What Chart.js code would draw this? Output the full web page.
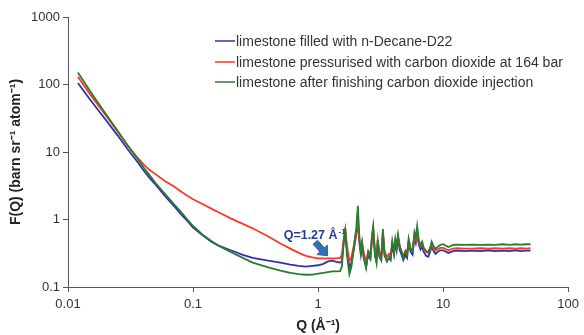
<!DOCTYPE html>
<html>
<head>
<meta charset="utf-8">
<script src="https://cdn.jsdelivr.net/npm/chart.js@4.4.1/dist/chart.umd.min.js"></script>
<style>
  html, body { margin: 0; padding: 0; background: #fff; }
  #wrap { width: 584px; height: 335px; }
</style>
</head>
<body>
<div id="wrap"><canvas id="fq"></canvas></div>
<script>
// Q values (Å^-1) shared by all three curves
const qValues = [
  0.012, 0.015, 0.02, 0.025, 0.03, 0.035, 0.04, 0.045, 0.05, 0.06, 0.07, 0.08, 0.09,
  0.1, 0.12, 0.14, 0.16, 0.2, 0.25, 0.3, 0.4, 0.5, 0.6, 0.7, 0.8, 0.9,
  1.0, 1.1, 1.2, 1.3, 1.4, 1.5, 1.55,
  1.6, 1.65, 1.7, 1.78, 1.85, 1.95, 2.02, 2.08, 2.14, 2.2, 2.25, 2.32, 2.42, 2.52, 2.62,
  2.7, 2.76, 2.85, 2.93, 3.0, 3.1, 3.2, 3.3, 3.4, 3.55, 3.7, 3.8, 3.92, 4.05, 4.15, 4.25,
  4.36, 4.5, 4.65, 4.8, 5.0, 5.15, 5.3, 5.5, 5.7, 5.9, 6.05, 6.2, 6.4, 6.6, 6.8, 7.0,
  7.3, 7.6, 7.9, 8.1, 8.4, 8.7, 9.0, 9.5, 10, 11, 12, 13, 15, 17, 20, 23, 26, 30, 34,
  38, 42, 46, 50
];

// F(Q) for limestone filled with n-Decane-D22
const fDecane = [
  105, 60, 30, 17.5, 11, 7.6, 5.4, 4.1, 3.3, 2.2, 1.6, 1.2, 0.95,
  0.76, 0.58, 0.47, 0.41, 0.35, 0.30, 0.27, 0.245, 0.23, 0.215, 0.205, 0.20, 0.205,
  0.21, 0.22, 0.24, 0.245, 0.235, 0.23, 0.24,
  0.45, 0.65, 0.35, 0.19, 0.23, 0.4, 0.6, 0.92, 0.45, 0.3, 0.42, 0.27, 0.2, 0.3, 0.26,
  0.5, 0.7, 0.3, 0.24, 0.45, 0.28, 0.25, 0.62, 0.3, 0.24, 0.27, 0.25, 0.42, 0.3, 0.45, 0.35,
  0.52, 0.35, 0.3, 0.25, 0.3, 0.27, 0.45, 0.33, 0.3, 0.55, 0.45, 0.62, 0.42, 0.36, 0.4, 0.33,
  0.29, 0.28, 0.34, 0.4, 0.34, 0.31, 0.33, 0.35, 0.35, 0.32, 0.34, 0.345, 0.34, 0.345, 0.34, 0.35, 0.34, 0.345, 0.34,
  0.35, 0.34, 0.345, 0.345
];

// F(Q) for limestone pressurised with CO2 at 164 bar
const fPressurised = [
  130, 72, 35, 20, 12.5, 8.8, 6.6, 5.4, 4.7, 3.7, 3.1, 2.6, 2.25,
  2.0, 1.68, 1.45, 1.28, 1.04, 0.86, 0.74, 0.56, 0.44, 0.37, 0.32, 0.29, 0.275,
  0.265, 0.265, 0.265, 0.265, 0.265, 0.27, 0.3,
  0.5, 0.72, 0.42, 0.24, 0.28, 0.45, 0.65, 1.0, 0.5, 0.35, 0.45, 0.32, 0.24, 0.34, 0.3,
  0.55, 0.75, 0.34, 0.28, 0.5, 0.32, 0.29, 0.66, 0.34, 0.28, 0.31, 0.29, 0.45, 0.34, 0.48, 0.4,
  0.55, 0.4, 0.34, 0.29, 0.34, 0.31, 0.48, 0.37, 0.35, 0.58, 0.5, 0.66, 0.45, 0.4, 0.44, 0.37,
  0.33, 0.32, 0.37, 0.43, 0.37, 0.35, 0.36, 0.38, 0.38, 0.35, 0.37, 0.375, 0.37, 0.37, 0.375, 0.37, 0.375, 0.37, 0.375,
  0.37, 0.375, 0.37, 0.375
];

// F(Q) for limestone after finishing CO2 injection
const fAfter = [
  150, 80, 37, 20.5, 12.5, 8.5, 6.0, 4.5, 3.5, 2.35, 1.7, 1.3, 1.0,
  0.8, 0.59, 0.48, 0.41, 0.33, 0.27, 0.23, 0.195, 0.175, 0.162, 0.155, 0.152, 0.153,
  0.158, 0.162, 0.166, 0.17, 0.17, 0.172, 0.2,
  0.45, 0.75, 0.3, 0.155, 0.2, 0.45, 0.75, 1.6, 0.55, 0.3, 0.45, 0.27, 0.19, 0.33, 0.27,
  0.6, 0.8, 0.3, 0.23, 0.5, 0.28, 0.25, 0.72, 0.3, 0.24, 0.28, 0.26, 0.48, 0.33, 0.52, 0.4,
  0.6, 0.4, 0.33, 0.27, 0.34, 0.3, 0.52, 0.37, 0.34, 0.65, 0.55, 0.8, 0.48, 0.42, 0.47, 0.38,
  0.34, 0.33, 0.39, 0.47, 0.4, 0.37, 0.39, 0.42, 0.43, 0.39, 0.42, 0.425, 0.42, 0.425, 0.42, 0.425, 0.42, 0.43, 0.42,
  0.43, 0.425, 0.43, 0.43
];

const seriesNames = [
  "limestone filled with n-Decane-D22",
  "limestone pressurised with carbon dioxide at 164 bar",
  "limestone after finishing carbon dioxide injection"
];
const seriesColors = ['rgb(50, 50, 168)', 'rgb(250, 58, 38)', 'rgb(42, 124, 46)'];

const xTickValues = [0.01, 0.1, 1, 10, 100];
const xTickLabels = ["0.01", "0.1", "1", "10", "100"];
const yTickValues = [0.1, 1, 10, 100, 1000];
const yTickLabels = ["0.1", "1", "10", "100", "1000"];

const FONT = "'Liberation Sans', Arial, sans-serif";

function toPoints(ys) {
  return qValues.map((q, i) => ({x: q, y: ys[i]}));
}

function blockArrow(ctx, x1, y1, x2, y2) {
  const a = Math.atan2(y2 - y1, x2 - x1);
  const len = Math.hypot(x2 - x1, y2 - y1);
  ctx.save();
  ctx.translate(x1, y1);
  ctx.rotate(a);
  ctx.beginPath();
  ctx.moveTo(0, -3);
  ctx.lineTo(len - 8, -3);
  ctx.lineTo(len - 8, -7);
  ctx.lineTo(len, 0);
  ctx.lineTo(len - 8, 7);
  ctx.lineTo(len - 8, 3);
  ctx.lineTo(0, 3);
  ctx.closePath();
  ctx.fillStyle = 'rgb(52, 112, 182)';
  ctx.fill();
  ctx.strokeStyle = 'rgb(40, 80, 140)';
  ctx.lineWidth = 0.8;
  ctx.stroke();
  ctx.restore();
}

// legend inside the plot + the Q=1.27 annotation
const extras = {
  id: 'extras',
  afterDatasetsDraw(chart) {
    const ctx = chart.ctx;
    const xs = chart.scales.x, ys = chart.scales.y;
    ctx.save();
    // legend
    ctx.font = '14px ' + FONT;
    ctx.textBaseline = 'middle';
    const lx = 215, ly = [41, 62, 82];
    for (let i = 0; i < 3; i++) {
      ctx.strokeStyle = seriesColors[i];
      ctx.lineWidth = 1.5;
      ctx.beginPath();
      ctx.moveTo(lx, ly[i]);
      ctx.lineTo(lx + 20, ly[i]);
      ctx.stroke();
      ctx.fillStyle = '#333';
      ctx.fillText(seriesNames[i], lx + 21, ly[i] + 1);
    }
    // annotation
    blockArrow(ctx, xs.getPixelForValue(0.95), ys.getPixelForValue(0.46),
                    xs.getPixelForValue(1.19), ys.getPixelForValue(0.29));
    const tx = xs.getPixelForValue(0.93), ty = ys.getPixelForValue(0.52);
    ctx.fillStyle = 'rgb(40, 62, 140)';
    ctx.font = 'bold 12.5px ' + FONT;
    ctx.textBaseline = 'alphabetic';
    const main = 'Q=1.27 Å';
    const w1 = ctx.measureText(main).width;
    ctx.font = 'bold 8px ' + FONT;
    const w2 = ctx.measureText('-1').width;
    const x0 = tx - (w1 + w2) / 2;
    ctx.font = 'bold 12.5px ' + FONT;
    ctx.fillText(main, x0, ty);
    ctx.font = 'bold 8px ' + FONT;
    ctx.fillText('-1', x0 + w1 + 1, ty - 5);
    ctx.restore();
  }
};

const ctx_fq = document.getElementById('fq');

new Chart(ctx_fq, {
  type: 'line',
  data: {
    datasets: [
      { label: seriesNames[0], data: toPoints(fDecane), borderColor: seriesColors[0], order: 3 },
      { label: seriesNames[1], data: toPoints(fPressurised), borderColor: seriesColors[1], order: 2 },
      { label: seriesNames[2], data: toPoints(fAfter), borderColor: seriesColors[2], order: 1 }
    ]
  },
  options: {
    responsive: true,
    maintainAspectRatio: false,
    animation: false,
    devicePixelRatio: 1,
    layout: { padding: { top: 17, right: 14, left: 0, bottom: 0 } },
    elements: {
      point: { radius: 0 },
      line: { borderWidth: 1.8, tension: 0 }
    },
    plugins: {
      legend: { display: false },
      tooltip: { enabled: false }
    },
    scales: {
      x: {
        type: 'logarithmic',
        min: 0.01,
        max: 100,
        afterBuildTicks: (s) => { s.ticks = xTickValues.map(v => ({value: v})); },
        afterFit: (s) => { s.height = 48; },
        ticks: {
          autoSkip: false,
          maxRotation: 0,
          color: '#333',
          padding: 5,
          font: { family: FONT, size: 13 },
          callback: (v) => xTickLabels[xTickValues.indexOf(v)]
        },
        grid: { drawOnChartArea: false, drawTicks: true, tickLength: 5, color: '#555' },
        border: { display: true, color: '#555', width: 1 },
        title: {
          display: true,
          text: 'Q (Å⁻¹)',
          color: '#222',
          font: { family: FONT, size: 14, weight: 'bold' },
          padding: { top: 2, bottom: 0 }
        }
      },
      y: {
        type: 'logarithmic',
        min: 0.1,
        max: 1000,
        afterBuildTicks: (s) => { s.ticks = yTickValues.map(v => ({value: v})); },
        afterFit: (s) => { s.width = 68; },
        ticks: {
          autoSkip: false,
          color: '#333',
          padding: 3,
          font: { family: FONT, size: 13 },
          callback: (v) => yTickLabels[yTickValues.indexOf(v)]
        },
        grid: { drawOnChartArea: false, drawTicks: true, tickLength: 5, color: '#555' },
        border: { display: true, color: '#555', width: 1 },
        title: {
          display: true,
          text: 'F(Q) (barn sr⁻¹ atom⁻¹)',
          color: '#222',
          font: { family: FONT, size: 14, weight: 'bold' },
          padding: { top: 8, bottom: 0 }
        }
      }
    }
  },
  plugins: [extras]
});
</script>
</body>
</html>
